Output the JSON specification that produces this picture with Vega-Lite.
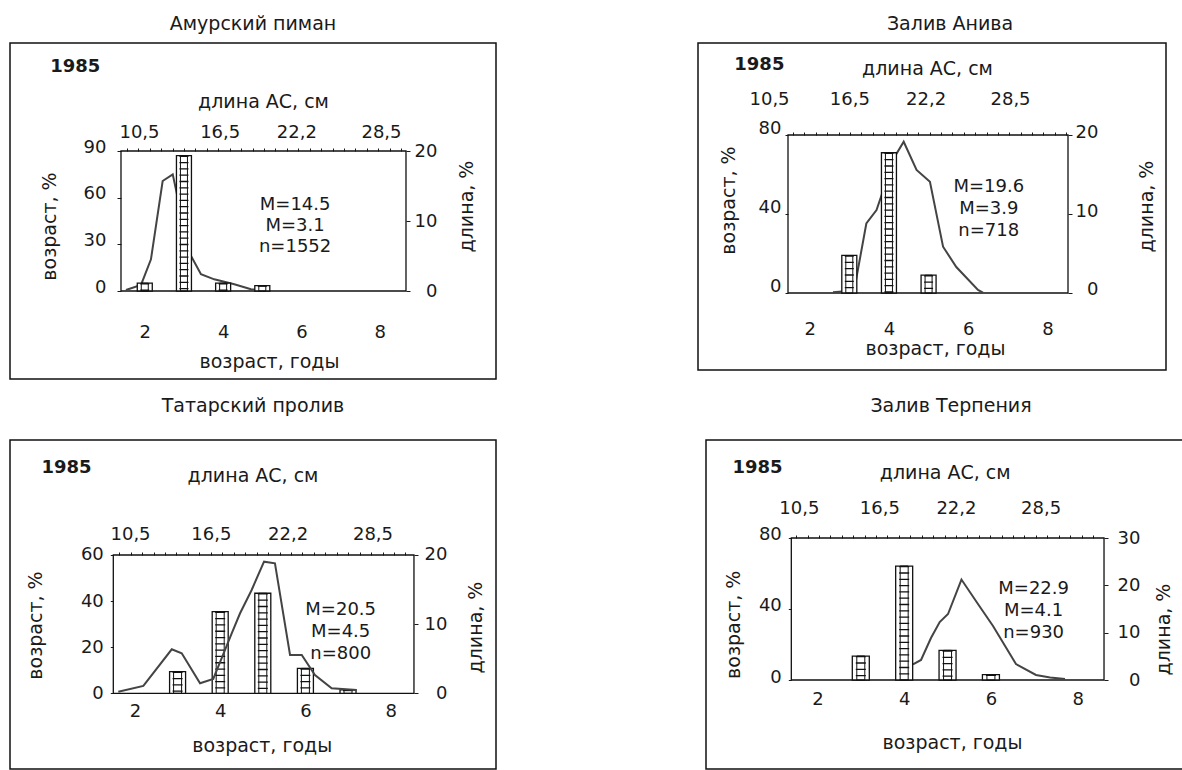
{
  "$schema": "https://vega.github.io/schema/vega-lite/v6.json",
  "background": "white",
  "padding": {"left": 9, "top": 14, "right": 0, "bottom": 0},
  "autosize": {"type": "pad"},
  "datasets": {
    "p1_age": [{"age": 2, "pct": 5}, {"age": 3, "pct": 87}, {"age": 4, "pct": 5}, {"age": 5, "pct": 3.5}],
    "p1_len": [{"len": 9.53, "pct": 0.14}, {"len": 10.65, "pct": 0.86}, {"len": 11.39, "pct": 4.53}, {"len": 12.26, "pct": 15.71}, {"len": 13.01, "pct": 16.67}, {"len": 14.24, "pct": 5.47}, {"len": 15.11, "pct": 2.39}, {"len": 16.1, "pct": 1.67}, {"len": 17.59, "pct": 0.96}, {"len": 18.83, "pct": 0.24}, {"len": 20.17, "pct": 0.07}],
    "p2_age": [{"age": 3, "pct": 19}, {"age": 4, "pct": 71}, {"age": 5, "pct": 9}],
    "p2_len": [{"len": 15.28, "pct": 0.1}, {"len": 16.65, "pct": 0.3}, {"len": 16.92, "pct": 0.9}, {"len": 17.77, "pct": 8.8}, {"len": 18.53, "pct": 10.5}, {"len": 19.89, "pct": 17.25}, {"len": 20.56, "pct": 19.15}, {"len": 21.52, "pct": 15.57}, {"len": 22.52, "pct": 14.09}, {"len": 23.5, "pct": 5.86}, {"len": 24.49, "pct": 3.29}, {"len": 26.11, "pct": 0.38}, {"len": 26.48, "pct": 0.04}],
    "p3_age": [{"age": 3, "pct": 9.4}, {"age": 4, "pct": 35.4}, {"age": 5, "pct": 43.4}, {"age": 6, "pct": 10.8}, {"age": 7, "pct": 1.5}],
    "p3_len": [{"len": 9.63, "pct": 0.23}, {"len": 11.49, "pct": 1.06}, {"len": 13.6, "pct": 6.36}, {"len": 14.34, "pct": 5.78}, {"len": 15.7, "pct": 1.45}, {"len": 16.68, "pct": 2.07}, {"len": 18.05, "pct": 8.68}, {"len": 18.67, "pct": 11.57}, {"len": 19.53, "pct": 14.94}, {"len": 20.45, "pct": 19.03}, {"len": 21.26, "pct": 18.8}, {"len": 22.38, "pct": 5.54}, {"len": 23.25, "pct": 5.54}, {"len": 24.23, "pct": 2.65}, {"len": 25.47, "pct": 0.72}, {"len": 27.33, "pct": 0.48}],
    "p4_age": [{"age": 3, "pct": 13.5}, {"age": 4, "pct": 64.2}, {"age": 5, "pct": 16.7}, {"age": 6, "pct": 3}],
    "p4_len": [{"len": 19.0, "pct": 3.32}, {"len": 19.6, "pct": 4.23}, {"len": 20.34, "pct": 8.87}, {"len": 20.99, "pct": 12.25}, {"len": 21.61, "pct": 13.94}, {"len": 22.61, "pct": 21.23}, {"len": 23.84, "pct": 16.06}, {"len": 24.96, "pct": 11.41}, {"len": 26.67, "pct": 3.38}, {"len": 28.16, "pct": 1.06}, {"len": 29.21, "pct": 0.53}, {"len": 30.32, "pct": 0.21}]
  },
  "vconcat": [
    {
      "spacing": 200,
      "hconcat": [
        {
          "title": {"text": "Амурский пиман", "offset": -6, "baseline": "alphabetic", "anchor": "middle", "dx": 0},
          "width": 486, "height": 336,
          "resolve": {"scale": {"x": "independent", "y": "independent"}, "axis": {"x": "independent", "y": "independent"}},
          "layer": [
            {
              "data": {"values": [{}]},
              "mark": {"type": "rect", "filled": false, "color": "#111", "strokeWidth": 1.3},
              "encoding": {
                "x": {"datum": 9.161, "type": "quantitative", "scale": {"domain": [0.905, 37.055], "nice": false, "zero": false},
                  "axis": {"orient": "top", "values": [9.6, 10.45, 11.3, 12.15, 13, 13.85, 14.7, 15.55, 16.4, 17.25, 18.1, 18.95, 19.8, 20.65, 21.5, 22.35, 23.2, 24.05, 24.9, 25.75, 26.6, 27.45, 28.3, 29.15, 30], "labels": false, "domain": false, "ticks": true, "tickSize": 3, "offset": -108, "title": null}},
                "x2": {"datum": 30.36},
                "y": {"datum": 0, "type": "quantitative", "scale": {"domain": [-12.571, 35.429], "nice": false, "zero": false}, "axis": null},
                "y2": {"datum": 20}
              }
            },
            {
              "data": {"name": "p1_len"},
              "mark": {"type": "line", "color": "#444", "strokeWidth": 2},
              "encoding": {
                "x": {"field": "len", "type": "quantitative", "scale": {"domain": [0.905, 37.055], "nice": false, "zero": false},
                  "axis": {"orient": "top", "values": [10.5, 16.5, 22.2, 28.5], "labelExpr": "replace(format(datum.value, '.1f'), '.', ',')", "offset": -108, "domain": false, "ticks": false, "tickSize": 0, "labelPadding": 10, "title": "длина АС, см", "titleX": 253, "titleY": -50, "titleAlign": "center", "titleBaseline": "middle", "titleAngle": 0}},
                "y": {"field": "pct", "type": "quantitative", "scale": {"domain": [-12.571, 35.429], "nice": false, "zero": false},
                  "axis": {"orient": "right", "values": [0, 10, 20], "offset": -90, "domain": false, "tickSize": 4, "labelPadding": 27, "labelAlign": "right", "title": "длина, %", "titleX": 60, "titleY": 163, "titleAngle": 270, "titleAlign": "center", "titleBaseline": "middle"}}
              }
            },
            {
              "layer": [
                {
                  "data": {"name": "p1_age"},
                  "mark": {"type": "bar", "orient": "vertical", "size": 15, "fill": "white", "stroke": "#111", "strokeWidth": 1.3},
                  "encoding": {
                    "x": {"field": "age", "type": "quantitative", "scale": {"domain": [-1.3125, 10.8375], "nice": false, "zero": false},
                      "axis": {"orient": "bottom", "values": [2, 4, 6, 8], "format": "d", "offset": -88, "domain": false, "ticks": false, "tickSize": 0, "labelPadding": 32, "title": "возраст, годы", "titleX": 259, "titleY": 70, "titleAlign": "center", "titleBaseline": "middle", "titleAngle": 0}},
                    "y": {"field": "pct", "type": "quantitative", "stack": null, "scale": {"domain": [-56.57, 159.43], "nice": false, "zero": false},
                      "axis": {"orient": "left", "values": [0, 30, 60, 90], "offset": -111, "domain": false, "tickSize": 4, "labelPadding": 11, "labelOffset": -4, "title": "возраст, %", "titleX": -72, "titleY": 183, "titleAngle": 270, "titleAlign": "center", "titleBaseline": "middle"}}
                  }
                },
                {
                  "data": {"name": "p1_age"},
                  "mark": {"type": "rule", "strokeWidth": 9, "strokeDash": [1.3, 5], "color": "#111"},
                  "encoding": {
                    "x": {"field": "age", "type": "quantitative", "scale": {"domain": [-1.3125, 10.8375], "nice": false, "zero": false}},
                    "y": {"field": "pct", "type": "quantitative", "scale": {"domain": [-56.57, 159.43], "nice": false, "zero": false}},
                    "y2": {"datum": 0}
                  }
                },
                {
                  "data": {"name": "p1_age"},
                  "mark": {"type": "bar", "orient": "vertical", "size": 7, "fillOpacity": 0, "stroke": "#111", "strokeWidth": 1},
                  "encoding": {
                    "x": {"field": "age", "type": "quantitative", "scale": {"domain": [-1.3125, 10.8375], "nice": false, "zero": false}},
                    "y": {"field": "pct", "type": "quantitative", "stack": null, "scale": {"domain": [-56.57, 159.43], "nice": false, "zero": false}}
                  }
                },
                {
                  "data": {"values": [{}]},
                  "mark": {"type": "text", "text": "1985", "fontWeight": "bold", "fontSize": 18, "align": "left", "baseline": "middle"},
                  "encoding": {
                    "x": {"datum": -0.4125, "type": "quantitative", "scale": {"domain": [-1.3125, 10.8375], "nice": false, "zero": false}},
                    "y": {"datum": 144.0, "type": "quantitative", "scale": {"domain": [-56.57, 159.43], "nice": false, "zero": false}}
                  }
                },
                {
                  "data": {"values": [{}]},
                  "mark": {"type": "text", "text": ["M=14.5", "M=3.1", "n=1552"], "fontSize": 18, "align": "center", "baseline": "middle", "lineHeight": 21},
                  "encoding": {
                    "x": {"datum": 5.8375, "type": "quantitative", "scale": {"domain": [-1.3125, 10.8375], "nice": false, "zero": false}},
                    "y": {"datum": 55.3, "type": "quantitative", "scale": {"domain": [-56.57, 159.43], "nice": false, "zero": false}}
                  }
                }
              ]
            }
          ]
        },
        {
          "title": {"text": "Залив Анива", "offset": -6, "baseline": "alphabetic", "anchor": "middle", "dx": 18},
          "width": 468, "height": 327,
          "resolve": {"scale": {"x": "independent", "y": "independent"}, "axis": {"x": "independent", "y": "independent"}},
          "layer": [
            {
              "data": {"values": [{}]},
              "mark": {"type": "rect", "filled": false, "color": "#111", "strokeWidth": 1.3},
              "encoding": {
                "x": {"datum": 11.919, "type": "quantitative", "scale": {"domain": [5.197, 40.151], "nice": false, "zero": false},
                  "axis": {"orient": "top", "values": [12.3, 13.15, 14, 14.85, 15.7, 16.55, 17.4, 18.25, 19.1, 19.95, 20.8, 21.65, 22.5, 23.35, 24.2, 25.05, 25.9, 26.75, 27.6, 28.45, 29.3, 30.15, 31, 31.85, 32.7], "labels": false, "domain": false, "ticks": true, "tickSize": 3, "offset": -92, "title": null}},
                "x2": {"datum": 32.832},
                "y": {"datum": 0, "type": "quantitative", "scale": {"domain": [-9.747, 31.646], "nice": false, "zero": false}, "axis": null},
                "y2": {"datum": 20}
              }
            },
            {
              "data": {"name": "p2_len"},
              "mark": {"type": "line", "color": "#444", "strokeWidth": 2},
              "encoding": {
                "x": {"field": "len", "type": "quantitative", "scale": {"domain": [5.197, 40.151], "nice": false, "zero": false},
                  "axis": {"orient": "top", "values": [10.5, 16.5, 22.2, 28.5], "labelExpr": "replace(format(datum.value, '.1f'), '.', ',')", "offset": -92, "domain": false, "ticks": false, "tickSize": 0, "labelPadding": 27, "title": "длина АС, см", "titleX": 229, "titleY": -67, "titleAlign": "center", "titleBaseline": "middle", "titleAngle": 0}},
                "y": {"field": "pct", "type": "quantitative", "scale": {"domain": [-9.747, 31.646], "nice": false, "zero": false},
                  "axis": {"orient": "right", "values": [0, 10, 20], "offset": -98, "domain": false, "tickSize": 4, "labelPadding": 26, "labelAlign": "right", "labelOffset": -3, "title": "длина, %", "titleX": 78, "titleY": 163, "titleAngle": 270, "titleAlign": "center", "titleBaseline": "middle"}}
              }
            },
            {
              "layer": [
                {
                  "data": {"name": "p2_age"},
                  "mark": {"type": "bar", "orient": "vertical", "size": 15, "fill": "white", "stroke": "#111", "strokeWidth": 1.3},
                  "encoding": {
                    "x": {"field": "age", "type": "quantitative", "scale": {"domain": [-0.6914, 10.864], "nice": false, "zero": false},
                      "axis": {"orient": "bottom", "values": [2, 4, 6, 8], "format": "d", "offset": -77, "domain": false, "ticks": false, "tickSize": 0, "labelPadding": 27, "title": "возраст, годы", "titleX": 237, "titleY": 55, "titleAlign": "center", "titleBaseline": "middle", "titleAngle": 0}},
                    "y": {"field": "pct", "type": "quantitative", "stack": null, "scale": {"domain": [-38.99, 126.58], "nice": false, "zero": false},
                      "axis": {"orient": "left", "values": [0, 40, 80], "offset": -90, "domain": false, "tickSize": 3, "labelPadding": 4, "labelOffset": -6, "title": "возраст, %", "titleX": -60, "titleY": 157, "titleAngle": 270, "titleAlign": "center", "titleBaseline": "middle"}}
                  }
                },
                {
                  "data": {"name": "p2_age"},
                  "mark": {"type": "rule", "strokeWidth": 9, "strokeDash": [1.3, 5], "color": "#111"},
                  "encoding": {
                    "x": {"field": "age", "type": "quantitative", "scale": {"domain": [-0.6914, 10.864], "nice": false, "zero": false}},
                    "y": {"field": "pct", "type": "quantitative", "scale": {"domain": [-38.99, 126.58], "nice": false, "zero": false}},
                    "y2": {"datum": 0}
                  }
                },
                {
                  "data": {"name": "p2_age"},
                  "mark": {"type": "bar", "orient": "vertical", "size": 7, "fillOpacity": 0, "stroke": "#111", "strokeWidth": 1},
                  "encoding": {
                    "x": {"field": "age", "type": "quantitative", "scale": {"domain": [-0.6914, 10.864], "nice": false, "zero": false}},
                    "y": {"field": "pct", "type": "quantitative", "stack": null, "scale": {"domain": [-38.99, 126.58], "nice": false, "zero": false}}
                  }
                },
                {
                  "data": {"values": [{}]},
                  "mark": {"type": "text", "text": "1985", "fontWeight": "bold", "fontSize": 18, "align": "left", "baseline": "middle"},
                  "encoding": {
                    "x": {"datum": 0.0988, "type": "quantitative", "scale": {"domain": [-0.6914, 10.864], "nice": false, "zero": false}},
                    "y": {"datum": 115.44, "type": "quantitative", "scale": {"domain": [-38.99, 126.58], "nice": false, "zero": false}}
                  }
                },
                {
                  "data": {"values": [{}]},
                  "mark": {"type": "text", "text": ["M=19.6", "M=3.9", "n=718"], "fontSize": 18, "align": "center", "baseline": "middle", "lineHeight": 22},
                  "encoding": {
                    "x": {"datum": 6.519, "type": "quantitative", "scale": {"domain": [-0.6914, 10.864], "nice": false, "zero": false}},
                    "y": {"datum": 53.7, "type": "quantitative", "scale": {"domain": [-38.99, 126.58], "nice": false, "zero": false}}
                  }
                }
              ]
            }
          ]
        }
      ]
    },
    {
      "spacing": 208,
      "hconcat": [
        {
          "title": {"text": "Татарский пролив", "offset": 9, "baseline": "alphabetic", "anchor": "middle", "dx": 0},
          "width": 486, "height": 329,
          "resolve": {"scale": {"x": "independent", "y": "independent"}, "axis": {"x": "independent", "y": "independent"}},
          "layer": [
            {
              "data": {"values": [{}]},
              "mark": {"type": "rect", "filled": false, "color": "#111", "strokeWidth": 1.3},
              "encoding": {
                "x": {"datum": 9.26, "type": "quantitative", "scale": {"domain": [1.591, 37.67], "nice": false, "zero": false},
                  "axis": {"orient": "top", "values": [9.7, 10.55, 11.4, 12.25, 13.1, 13.95, 14.8, 15.65, 16.5, 17.35, 18.2, 19.05, 19.9, 20.75, 21.6, 22.45, 23.3, 24.15, 25, 25.85, 26.7, 27.55, 28.4, 29.25, 30.1, 30.95], "labels": false, "domain": false, "ticks": true, "tickSize": 3, "offset": -115, "title": null}},
                "x2": {"datum": 31.58},
                "y": {"datum": 0, "type": "quantitative", "scale": {"domain": [-10.95, 36.63], "nice": false, "zero": false}, "axis": null},
                "y2": {"datum": 20}
              }
            },
            {
              "layer": [
                {
                  "data": {"name": "p3_age"},
                  "mark": {"type": "bar", "orient": "vertical", "size": 16, "fill": "white", "stroke": "#111", "strokeWidth": 1.3},
                  "encoding": {
                    "x": {"field": "age", "type": "quantitative", "scale": {"domain": [-0.816, 10.356], "nice": false, "zero": false},
                      "axis": {"orient": "bottom", "values": [2, 4, 6, 8], "format": "d", "offset": -75.7, "domain": false, "ticks": false, "tickSize": 0, "labelPadding": 9, "title": "возраст, годы", "titleX": 251.7, "titleY": 51.7, "titleAlign": "center", "titleBaseline": "middle", "titleAngle": 0}},
                    "y": {"field": "pct", "type": "quantitative", "stack": null, "scale": {"domain": [-32.84, 109.89], "nice": false, "zero": false},
                      "axis": {"orient": "left", "values": [0, 20, 40, 60], "offset": -103.3, "domain": false, "tickSize": 3, "labelPadding": 7, "title": "возраст, %", "titleX": -78.3, "titleY": 185, "titleAngle": 270, "titleAlign": "center", "titleBaseline": "middle"}}
                  }
                },
                {
                  "data": {"name": "p3_age"},
                  "mark": {"type": "rule", "strokeWidth": 10, "strokeDash": [1.3, 5], "color": "#111"},
                  "encoding": {
                    "x": {"field": "age", "type": "quantitative", "scale": {"domain": [-0.816, 10.356], "nice": false, "zero": false}},
                    "y": {"field": "pct", "type": "quantitative", "scale": {"domain": [-32.84, 109.89], "nice": false, "zero": false}},
                    "y2": {"datum": 0}
                  }
                },
                {
                  "data": {"name": "p3_age"},
                  "mark": {"type": "bar", "orient": "vertical", "size": 8, "fillOpacity": 0, "stroke": "#111", "strokeWidth": 1},
                  "encoding": {
                    "x": {"field": "age", "type": "quantitative", "scale": {"domain": [-0.816, 10.356], "nice": false, "zero": false}},
                    "y": {"field": "pct", "type": "quantitative", "stack": null, "scale": {"domain": [-32.84, 109.89], "nice": false, "zero": false}}
                  }
                },
                {
                  "data": {"values": [{}]},
                  "mark": {"type": "text", "text": "1985", "fontWeight": "bold", "fontSize": 18, "align": "left", "baseline": "middle"},
                  "encoding": {
                    "x": {"datum": -0.195, "type": "quantitative", "scale": {"domain": [-0.816, 10.356], "nice": false, "zero": false}},
                    "y": {"datum": 97.74, "type": "quantitative", "scale": {"domain": [-32.84, 109.89], "nice": false, "zero": false}}
                  }
                },
                {
                  "data": {"values": [{}]},
                  "mark": {"type": "text", "text": ["M=20.5", "M=4.5", "n=800"], "fontSize": 18, "align": "center", "baseline": "middle", "lineHeight": 22},
                  "encoding": {
                    "x": {"datum": 6.828, "type": "quantitative", "scale": {"domain": [-0.816, 10.356], "nice": false, "zero": false}},
                    "y": {"datum": 36.14, "type": "quantitative", "scale": {"domain": [-32.84, 109.89], "nice": false, "zero": false}}
                  }
                }
              ]
            },
            {
              "data": {"name": "p3_len"},
              "mark": {"type": "line", "color": "#444", "strokeWidth": 2},
              "encoding": {
                "x": {"field": "len", "type": "quantitative", "scale": {"domain": [1.591, 37.67], "nice": false, "zero": false},
                  "axis": {"orient": "top", "values": [10.5, 16.5, 22.2, 28.5], "labelExpr": "replace(format(datum.value, '.1f'), '.', ',')", "offset": -115, "domain": false, "ticks": false, "tickSize": 0, "labelPadding": 12, "title": "длина АС, см", "titleX": 242.5, "titleY": -80, "titleAlign": "center", "titleBaseline": "middle", "titleAngle": 0}},
                "y": {"field": "pct", "type": "quantitative", "scale": {"domain": [-10.95, 36.63], "nice": false, "zero": false},
                  "axis": {"orient": "right", "values": [0, 10, 20], "offset": -82, "domain": false, "tickSize": 4, "labelPadding": 29, "labelAlign": "right", "title": "длина, %", "titleX": 61, "titleY": 187, "titleAngle": 270, "titleAlign": "center", "titleBaseline": "middle"}}
              }
            }
          ]
        },
        {
          "title": {"text": "Залив Терпения", "offset": 9, "baseline": "alphabetic", "anchor": "middle", "dx": 6},
          "width": 478, "height": 329,
          "resolve": {"scale": {"x": "independent", "y": "independent"}, "axis": {"x": "independent", "y": "independent"}},
          "layer": [
            {
              "data": {"values": [{}]},
              "mark": {"type": "rect", "filled": false, "color": "#111", "strokeWidth": 1.3},
              "encoding": {
                "x": {"datum": 9.942, "type": "quantitative", "scale": {"domain": [3.59, 39.18], "nice": false, "zero": false},
                  "axis": {"orient": "top", "values": [10.3, 11.15, 12, 12.85, 13.7, 14.55, 15.4, 16.25, 17.1, 17.95, 18.8, 19.65, 20.5, 21.35, 22.2, 23.05, 23.9, 24.75, 25.6, 26.45, 27.3, 28.15, 29, 29.85, 30.7, 31.55, 32.4], "labels": false, "domain": false, "ticks": true, "tickSize": 3, "offset": -98, "title": null}},
                "x2": {"datum": 33.225},
                "y": {"datum": 0, "type": "quantitative", "scale": {"domain": [-18.8, 50.71], "nice": false, "zero": false}, "axis": null},
                "y2": {"datum": 30}
              }
            },
            {
              "data": {"name": "p4_len"},
              "mark": {"type": "line", "color": "#444", "strokeWidth": 2},
              "encoding": {
                "x": {"field": "len", "type": "quantitative", "scale": {"domain": [3.59, 39.18], "nice": false, "zero": false},
                  "axis": {"orient": "top", "values": [10.5, 16.5, 22.2, 28.5], "labelExpr": "replace(format(datum.value, '.1f'), '.', ',')", "offset": -98, "domain": false, "ticks": false, "tickSize": 0, "labelPadding": 21, "title": "длина АС, см", "titleX": 238.7, "titleY": -65.3, "titleAlign": "center", "titleBaseline": "middle", "titleAngle": 0}},
                "y": {"field": "pct", "type": "quantitative", "scale": {"domain": [-18.8, 50.71], "nice": false, "zero": false},
                  "axis": {"orient": "right", "values": [0, 10, 20, 30], "offset": -80, "domain": false, "tickSize": 4, "labelPadding": 32, "labelAlign": "right", "title": "длина, %", "titleX": 59, "titleY": 189, "titleAngle": 270, "titleAlign": "center", "titleBaseline": "middle"}}
              }
            },
            {
              "layer": [
                {
                  "data": {"name": "p4_age"},
                  "mark": {"type": "bar", "orient": "vertical", "size": 17, "fill": "white", "stroke": "#111", "strokeWidth": 1.3},
                  "encoding": {
                    "x": {"field": "age", "type": "quantitative", "scale": {"domain": [-0.4537, 10.336], "nice": false, "zero": false},
                      "axis": {"orient": "bottom", "values": [2, 4, 6, 8], "format": "d", "offset": -89, "domain": false, "ticks": false, "tickSize": 0, "labelPadding": 10, "title": "возраст, годы", "titleX": 246, "titleY": 62.7, "titleAlign": "center", "titleBaseline": "middle", "titleAngle": 0}},
                    "y": {"field": "pct", "type": "quantitative", "stack": null, "scale": {"domain": [-50.14, 135.21], "nice": false, "zero": false},
                      "axis": {"orient": "left", "values": [0, 40, 80], "offset": -85.3, "domain": false, "tickSize": 3, "labelPadding": 7, "labelOffset": -3, "title": "возраст, %", "titleX": -57.5, "titleY": 184.3, "titleAngle": 270, "titleAlign": "center", "titleBaseline": "middle"}}
                  }
                },
                {
                  "data": {"name": "p4_age"},
                  "mark": {"type": "rule", "strokeWidth": 10, "strokeDash": [1.3, 5], "color": "#111"},
                  "encoding": {
                    "x": {"field": "age", "type": "quantitative", "scale": {"domain": [-0.4537, 10.336], "nice": false, "zero": false}},
                    "y": {"field": "pct", "type": "quantitative", "scale": {"domain": [-50.14, 135.21], "nice": false, "zero": false}},
                    "y2": {"datum": 0}
                  }
                },
                {
                  "data": {"name": "p4_age"},
                  "mark": {"type": "bar", "orient": "vertical", "size": 8, "fillOpacity": 0, "stroke": "#111", "strokeWidth": 1},
                  "encoding": {
                    "x": {"field": "age", "type": "quantitative", "scale": {"domain": [-0.4537, 10.336], "nice": false, "zero": false}},
                    "y": {"field": "pct", "type": "quantitative", "stack": null, "scale": {"domain": [-50.14, 135.21], "nice": false, "zero": false}}
                  }
                },
                {
                  "data": {"values": [{}]},
                  "mark": {"type": "text", "text": "1985", "fontWeight": "bold", "fontSize": 18, "align": "left", "baseline": "middle"},
                  "encoding": {
                    "x": {"datum": 0.0429, "type": "quantitative", "scale": {"domain": [-0.4537, 10.336], "nice": false, "zero": false}},
                    "y": {"datum": 119.6, "type": "quantitative", "scale": {"domain": [-50.14, 135.21], "nice": false, "zero": false}}
                  }
                },
                {
                  "data": {"values": [{}]},
                  "mark": {"type": "text", "text": ["M=22.9", "M=4.1", "n=930"], "fontSize": 18, "align": "center", "baseline": "middle", "lineHeight": 22},
                  "encoding": {
                    "x": {"datum": 6.984, "type": "quantitative", "scale": {"domain": [-0.4537, 10.336], "nice": false, "zero": false}},
                    "y": {"datum": 51.1, "type": "quantitative", "scale": {"domain": [-50.14, 135.21], "nice": false, "zero": false}}
                  }
                }
              ]
            }
          ]
        }
      ]
    }
  ],
  "spacing": 16,
  "config": {
    "font": "DejaVu Sans",
    "view": {"stroke": "#111", "strokeWidth": 1.5},
    "axis": {"grid": false, "labelFont": "DejaVu Sans", "labelFontSize": 18, "labelColor": "#1a1a1a", "titleFont": "DejaVu Sans", "titleFontSize": 19, "titleFontWeight": "normal", "titleColor": "#1a1a1a", "tickColor": "#1a1a1a", "labelFlush": false, "labelOverlap": false},
    "title": {"font": "DejaVu Sans", "fontSize": 19, "fontWeight": "normal", "color": "#1a1a1a"},
    "text": {"font": "DejaVu Sans", "color": "#1a1a1a"}
  }
}
